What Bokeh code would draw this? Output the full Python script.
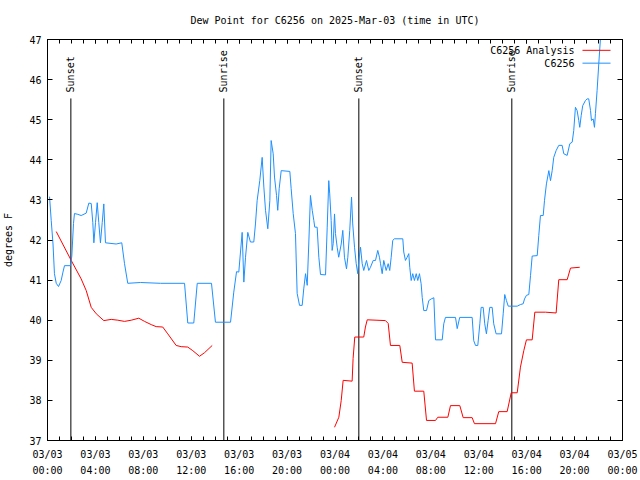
import math
from bokeh.plotting import figure
from bokeh.models import FixedTicker, LinearAxis, Range1d
from bokeh.embed import file_html
from bokeh.resources import INLINE
from bokeh.core.properties import value

# ---- data (hours since 2025-03-03 00:00 UTC, dew point in degrees F) ----
obs_hours = [0.17, 0.31, 0.46, 0.58, 0.73, 0.92, 1.14, 1.29, 1.42, 1.92, 2.03, 2.17, 2.25, 2.53, 2.81,
             3.23, 3.45, 3.65, 3.78, 3.87, 4.01, 4.15, 4.28, 4.42, 4.57, 4.70, 4.84, 5.73, 6.20, 6.43,
             6.70, 7.76, 9.43, 11.44, 11.71, 12.21, 12.50, 13.69, 14.02, 15.28, 15.55, 15.78, 15.97,
             16.11, 16.25, 16.39, 16.53, 16.72, 16.94, 17.22, 17.36, 17.50, 17.72, 17.92, 18.06, 18.20,
             18.39, 18.56, 18.67, 18.84, 18.95, 19.12, 19.22, 19.34, 19.51, 20.23, 20.34, 20.51, 20.70,
             20.84, 21.04, 21.26, 21.39, 21.54, 21.68, 21.81, 21.95, 22.10, 22.23, 22.31, 22.51, 22.65,
             22.79, 23.21, 23.35, 23.48, 23.56, 23.68, 23.76, 23.85, 23.96, 24.04, 24.18, 24.31, 24.52,
             24.65, 24.79, 24.96, 25.07, 25.23, 25.38, 25.48, 25.63, 25.77, 25.90, 25.99, 26.13, 26.27,
             26.40, 26.63, 26.82, 26.96, 27.19, 27.38, 27.57, 27.71, 27.80, 27.94, 28.07, 28.27, 28.44,
             28.57, 28.69, 28.82, 28.96, 29.66, 29.74, 29.88, 30.02, 30.16, 30.24, 30.36, 30.49, 30.63,
             30.78, 30.91, 31.05, 31.19, 31.28, 31.41, 31.64, 31.83, 32.03, 32.25, 32.39, 32.95, 33.08,
             33.22, 34.06, 34.20, 34.41, 35.45, 35.58, 35.73, 35.92, 36.09, 36.20, 36.37, 36.50, 36.64,
             36.78, 36.92, 37.12, 37.25, 37.45, 37.90, 38.04, 38.17, 38.31, 38.46, 39.21, 39.48, 39.71,
             39.82, 39.98, 40.18, 40.32, 40.46, 40.88, 41.01, 41.15, 41.38, 41.49, 41.65, 41.85, 41.99,
             42.13, 42.26, 42.46, 42.68, 42.96, 43.10, 43.38, 43.60, 43.80, 43.93, 44.07, 44.21, 44.35,
             44.43, 44.55, 44.68, 44.91, 45.05, 45.18, 45.33, 45.41, 45.55, 45.66, 45.74, 45.88, 46.02,
             46.20]
obs_dewpt = [43.08, 42.49, 41.90, 41.16, 40.92, 40.84, 40.99, 41.20, 41.36, 41.36, 41.60, 42.41, 42.66, 42.64, 42.61,
             42.67, 42.92, 42.91, 42.44, 41.93, 42.44, 42.93, 42.44, 41.93, 42.44, 42.90, 41.93, 41.90, 41.93, 41.41,
             40.92, 40.94, 40.92, 40.92, 39.93, 39.93, 40.92, 40.92, 39.95, 39.95, 40.70, 41.21, 41.20,
             41.70, 42.19, 40.95, 41.57, 42.19, 41.95, 41.95, 42.40, 42.98, 43.48, 44.06, 43.32, 42.74,
             42.28, 42.98, 44.48, 44.15, 43.57, 43.11, 42.74, 43.28, 43.73, 43.71, 43.28, 42.66, 42.16,
             40.67, 40.37, 40.37, 40.78, 41.16, 40.87, 41.90, 43.11, 42.74, 42.49, 42.32, 42.32, 41.57,
             41.14, 41.13, 42.32, 43.48, 43.15, 42.49, 41.74, 41.91, 42.65, 42.16, 41.82, 41.57, 41.90,
             42.24, 41.57, 41.28, 41.57, 42.24, 43.07, 42.40, 41.82, 41.41, 41.16, 41.49, 41.82, 41.41,
             41.24, 41.49, 41.24, 41.32, 41.49, 41.49, 41.74, 41.57, 41.41, 41.16, 41.49, 41.24, 41.41,
             41.24, 41.57, 41.99, 42.03, 42.03, 41.70, 41.49, 41.57, 41.66, 41.32, 40.99, 41.16, 40.99,
             41.16, 40.99, 41.16, 40.91, 40.57, 40.24, 40.24, 40.49, 40.53, 40.56, 39.51, 39.51, 39.91,
             40.07, 40.07, 39.79, 40.07, 40.07, 39.49, 39.37, 39.37, 39.91, 40.32, 40.32, 39.91, 39.66,
             39.99, 40.32, 40.32, 39.91, 39.66, 39.66, 40.16, 40.64, 40.49, 40.35, 40.35, 40.39, 40.41,
             40.53, 40.62, 40.64, 41.11, 41.60, 41.61, 42.11, 42.61, 42.61, 42.99, 43.40, 43.73, 43.48,
             43.73, 44.06, 44.23, 44.36, 44.36, 44.15, 44.11, 44.40, 44.44, 44.73, 45.31, 45.23, 44.98,
             44.81, 45.10, 45.35, 45.48, 45.52, 45.52, 45.23, 44.98, 45.02, 44.81, 45.15, 45.73, 46.40,
             47.20]

# analysis series: two separate runs (gap between them)
ana1_hours = [0.73, 1.98, 2.81, 3.23, 3.65, 4.07, 4.70, 5.32, 5.87, 6.43, 6.99, 7.62, 8.10, 8.66,
              9.07, 9.62, 10.04, 10.74, 11.16, 11.71, 12.13, 12.69, 13.11, 13.75]
ana1_dewpt = [42.21, 41.49, 41.03, 40.74, 40.32, 40.16, 39.99, 40.02, 40.00, 39.97, 40.00, 40.05, 39.97, 39.89,
              39.84, 39.83, 39.66, 39.37, 39.34, 39.33, 39.24, 39.10, 39.19, 39.37]
ana2_hours = [23.96, 24.32, 24.52, 24.68, 25.43, 25.51, 25.65, 26.40, 26.54, 26.69, 28.21, 28.44, 28.63,
              29.41, 29.61, 30.44, 30.63, 31.41, 31.64, 32.39, 32.58, 33.42, 33.64, 34.42, 34.70, 35.45,
              35.64, 37.40, 37.67, 38.37, 38.71, 39.21, 39.48, 39.76, 39.98, 40.46, 40.68, 41.57, 42.46,
              42.68, 43.38, 43.66, 44.43]
ana2_dewpt = [37.33, 37.58, 38.00, 38.50, 38.48, 39.04, 39.58, 39.58, 39.83, 40.01, 39.99, 39.92, 39.37,
              39.37, 38.95, 38.93, 38.23, 38.23, 37.50, 37.50, 37.58, 37.58, 37.87, 37.87, 37.57, 37.57,
              37.42, 37.42, 37.72, 37.72, 38.19, 38.19, 38.83, 39.24, 39.51, 39.51, 40.20, 40.20, 40.18,
              41.01, 41.01, 41.30, 41.32]

sun_hours = [1.95, 14.72, 25.99, 38.76]
sun_names = ["Sunset", "Sunrise", "Sunset", "Sunrise"]

x_major_ticks = [0, 4, 8, 12, 16, 20, 24, 28, 32, 36, 40, 44, 48]
x_tick_labels = ["03/03\n00:00", "03/03\n04:00", "03/03\n08:00", "03/03\n12:00", "03/03\n16:00",
                 "03/03\n20:00", "03/04\n00:00", "03/04\n04:00", "03/04\n08:00", "03/04\n12:00",
                 "03/04\n16:00", "03/04\n20:00", "03/05\n00:00"]
x_minor_ticks = list(range(0, 49))
y_ticks = [37, 38, 39, 40, 41, 42, 43, 44, 45, 46, 47]

title_text = "Dew Point for C6256 on 2025-Mar-03 (time in UTC)"
series_names = ["C6256 Analysis", "C6256"]
series_colors = ["#ff0000", "#1e90ff"]

FONT = "DejaVu Sans Mono"
FS = "10px"

p = figure(width=640, height=480, output_backend="svg", toolbar_location=None,
           x_range=Range1d(0, 48), y_range=Range1d(37, 47),
           min_border_left=47, min_border_right=18, min_border_top=39, min_border_bottom=40)
p.xgrid.visible = False
p.ygrid.visible = False
p.outline_line_color = "black"
p.outline_line_alpha = 1.0
p.background_fill_color = "white"
p.border_fill_color = "white"

xt = FixedTicker(ticks=x_major_ticks, minor_ticks=x_minor_ticks)
yt = FixedTicker(ticks=y_ticks, minor_ticks=[])

def style(ax):
    ax.axis_line_color = "black"
    ax.major_tick_line_color = "black"
    ax.minor_tick_line_color = "black"
    ax.major_tick_out = 0
    ax.minor_tick_out = 0
    ax.major_label_text_font = FONT
    ax.major_label_text_font_size = FS
    ax.major_label_text_color = "black"
    ax.axis_label_text_font = FONT
    ax.axis_label_text_font_size = FS
    ax.axis_label_text_font_style = "normal"
    ax.axis_label_text_color = "black"

xa = p.xaxis[0]
xa.ticker = xt
style(xa)
xa.major_tick_in = 4
xa.minor_tick_in = 4
xa.major_label_standoff = 8
xa.major_label_text_line_height = 1.5
xa.major_label_overrides = {t: l for t, l in zip(x_major_ticks, x_tick_labels)}

ya = p.yaxis[0]
ya.ticker = yt
style(ya)
ya.major_tick_in = 5
ya.major_label_standoff = 6
ya.axis_label = "degrees F"
ya.axis_label_standoff = 12

# mirrored tick marks on top (carrying the chart title) and right, as in the reference
top = LinearAxis(ticker=xt)
style(top)
top.major_tick_in = 4
top.minor_tick_in = 4
top.major_label_standoff = 0
top.major_label_overrides = {t: "" for t in x_major_ticks}
top.axis_label = title_text
top.axis_label_standoff = 14
p.add_layout(top, "above")

right = LinearAxis(ticker=yt)
style(right)
right.major_tick_in = 5
right.major_label_standoff = 0
right.major_label_overrides = {t: "" for t in y_ticks}
p.add_layout(right, "right")

# sunrise / sunset markers
line_top = 45.53
label_bottom = 45.68
p.segment(x0=sun_hours, y0=[37] * len(sun_hours), x1=sun_hours, y1=[line_top] * len(sun_hours),
          line_color="black", line_width=1)
p.text(x=sun_hours, y=[label_bottom] * len(sun_hours), text=sun_names, angle=math.pi / 2,
       text_align="left", text_baseline="middle", text_font=value(FONT), text_font_size=FS,
       text_color="black")

# data
p.line(ana1_hours, ana1_dewpt, line_color=series_colors[0], line_width=1)
p.line(ana2_hours, ana2_dewpt, line_color=series_colors[0], line_width=1)
p.line(obs_hours, obs_dewpt, line_color=series_colors[1], line_width=1)

# key (gnuplot style: label then sample line)
key_y = [46.73, 46.41]
key_text_x = 43.99
p.text(x=[key_text_x] * 2, y=key_y, text=series_names, text_align="right", text_baseline="middle",
       text_font=value(FONT), text_font_size=FS, text_color="black")
p.segment(x0=[44.66] * 2, y0=key_y, x1=[47.0] * 2, y1=key_y, line_color=series_colors, line_width=1)

open("out.html", "w").write(file_html(p, INLINE))
